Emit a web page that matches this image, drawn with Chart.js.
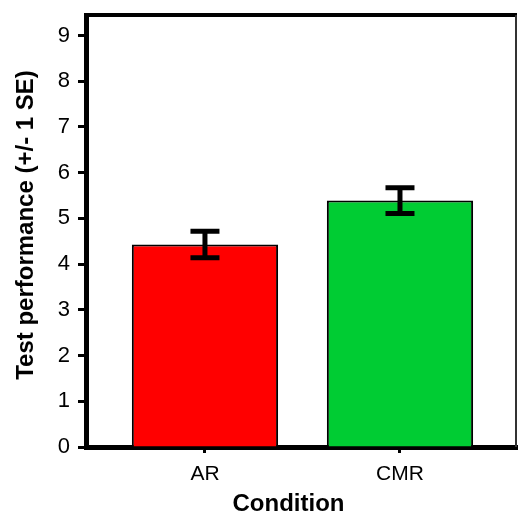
<!DOCTYPE html>
<html>
<head>
<meta charset="utf-8">
<script src="https://cdn.jsdelivr.net/npm/chart.js@4/dist/chart.umd.min.js"></script>
<style>
  html, body { margin: 0; padding: 0; background: #fff; }
  canvas { display: block; }
</style>
</head>
<body>
<canvas id="chart" width="518" height="512"></canvas>
<script>
// Data
const conditions = ['AR', 'CMR'];
const means = [4.43, 5.39];
const stdErrors = [0.29, 0.28];
const barColors = ['#FF0000', '#00CC33'];
const yTicks = [0, 1, 2, 3, 4, 5, 6, 7, 8, 9];

const xTitle = 'Condition';
const yTitle = 'Test performance (+/- 1 SE)';
const fontFamily = '"Liberation Sans", Arial, sans-serif';

// error bars, top/right frame and the axis titles
const errorBarPlugin = {
    id: 'errorBars',
    afterDatasetsDraw(chart) {
        const ctx = chart.ctx;
        const xs = chart.scales.x;
        const ys = chart.scales.y;
        ctx.save();
        ctx.strokeStyle = '#000';
        ctx.lineWidth = 5;
        means.forEach((m, i) => {
            const x = xs.getPixelForValue(i);
            const top = ys.getPixelForValue(m + stdErrors[i]);
            const bot = ys.getPixelForValue(m - stdErrors[i]);
            ctx.beginPath();
            ctx.moveTo(x, top);
            ctx.lineTo(x, bot);
            ctx.moveTo(x - 14.5, top);
            ctx.lineTo(x + 14.5, top);
            ctx.moveTo(x - 14.5, bot);
            ctx.lineTo(x + 14.5, bot);
            ctx.stroke();
        });
        const a = chart.chartArea;
        ctx.lineWidth = 4;
        ctx.beginPath();
        ctx.moveTo(a.left, a.top);
        ctx.lineTo(a.right, a.top);
        ctx.stroke();
        ctx.lineWidth = 2;
        ctx.strokeStyle = '#333';
        ctx.beginPath();
        ctx.moveTo(a.right - 1, a.top);
        ctx.lineTo(a.right - 1, a.bottom);
        ctx.stroke();

        // titles
        ctx.fillStyle = '#000';
        ctx.font = 'bold 24px ' + fontFamily;
        ctx.textAlign = 'center';
        ctx.textBaseline = 'alphabetic';
        ctx.fillText(xTitle, 288.5, 511);
        ctx.translate(33, 225);
        ctx.rotate(-Math.PI / 2);
        ctx.fillText(yTitle, 0, 0);
        ctx.restore();
    }
};

new Chart(document.getElementById('chart'), {
    type: 'bar',
    data: {
        datasets: [{
            data: means.map((m, i) => ({ x: i, y: m })),
            backgroundColor: barColors,
            borderColor: '#000',
            borderWidth: 2,
            categoryPercentage: 1,
            barPercentage: 0.75
        }]
    },
    options: {
        responsive: false,
        animation: false,
        layout: { padding: { top: 15, right: 1, left: 0, bottom: 0 } },
        plugins: {
            legend: { display: false },
            tooltip: { enabled: false }
        },
        scales: {
            x: {
                type: 'linear',
                min: -0.61,
                max: 1.6,
                offset: false,
                afterBuildTicks: s => {
                    s.ticks = conditions.map((c, i) => ({ value: i }));
                },
                afterFit: s => {
                    s.height = 65;
                    s.paddingLeft = 0;
                    s.paddingRight = 0;
                },
                border: { color: '#000', width: 5 },
                grid: {
                    offset: false,
                    drawOnChartArea: false,
                    drawTicks: true,
                    tickLength: 6,
                    tickWidth: 3,
                    tickColor: '#000'
                },
                ticks: {
                    color: '#000',
                    padding: 9,
                    font: { family: fontFamily, size: 21 },
                    callback: v => conditions[v]
                }
            },
            y: {
                min: 0,
                max: 9.45,
                afterBuildTicks: s => {
                    s.ticks = yTicks.map(v => ({ value: v }));
                },
                afterFit: s => {
                    s.width = 86;
                    s.paddingTop = 0;
                    s.paddingBottom = 0;
                },
                border: { color: '#000', width: 5 },
                grid: {
                    drawOnChartArea: false,
                    drawTicks: true,
                    tickLength: 8,
                    tickWidth: 3,
                    tickColor: '#000'
                },
                ticks: {
                    color: '#000',
                    padding: 8,
                    font: { family: fontFamily, size: 22 }
                }
            }
        }
    },
    plugins: [errorBarPlugin]
});
</script>
</body>
</html>
